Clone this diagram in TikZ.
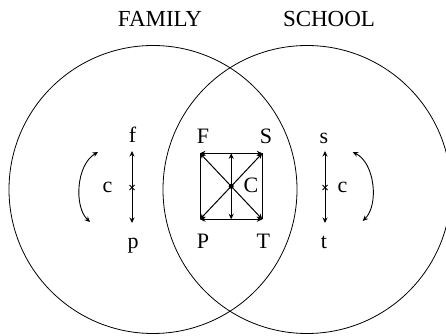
\documentclass[tikz,border=0pt]{standalone}
\usepackage{fontspec}
\setmainfont{Liberation Serif}
\usetikzlibrary{arrows.meta}
\begin{document}
\begin{tikzpicture}[x=1pt,y=-1pt,
  ring/.style={draw,line width=0.8pt},
  arr/.style={-{Stealth[length=5.5pt,width=5pt]},line width=1pt},
  darr/.style={{Stealth[length=5.5pt,width=5pt]}-{Stealth[length=5.5pt,width=5pt]},line width=0.9pt},
  xmark/.style={line width=1pt},
  lbl/.style={inner sep=0pt,anchor=base,font=\fontsize{22}{26}\selectfont},
  ttl/.style={inner sep=0pt,anchor=base,font=\fontsize{23}{27}\selectfont}]
\useasboundingbox (0,0) rectangle (446,336);
\clip (0,0) rectangle (446,336);
% titles
\node[ttl] (family) at (160,26.7) {FAMILY};
\node[ttl] (school) at (329,26.7) {SCHOOL};
% circles
\draw[ring] (153,189.5) circle[radius=144];
\draw[ring] (307,189.5) circle[radius=144];
% labels
\node[lbl] (f) at (132.5,143) {f};
\node[lbl] (p) at (133,248) {p};
\node[lbl] (cl) at (107.5,192.5) {c};
\node[lbl] (F) at (203,144) {F};
\node[lbl] (S) at (266,144) {S};
\node[lbl] (P) at (203,248) {P};
\node[lbl] (T) at (263.3,248) {T};
\node[lbl] (C) at (251,193) {C};
\node[lbl] (s) at (324,144) {s};
\node[lbl] (t) at (324,248) {t};
\node[lbl] (cr) at (342.5,192.5) {c};
% square coordinates
\coordinate (qF) at (200,153.3);
\coordinate (qS) at (262.3,153.3);
\coordinate (qP) at (200,219.3);
\coordinate (qT) at (262.3,219.3);
\coordinate (qC) at (231.2,186.3);
\coordinate (qt) at (231.2,153.3);
\coordinate (qb) at (231.2,219.3);
\draw[line width=1pt] (qF) -- (qP);
\draw[line width=1pt] (qS) -- (qT);
\draw[arr] (qt) -- (qF);
\draw[arr] (qt) -- (qS);
\draw[arr] (qb) -- (qP);
\draw[arr] (qb) -- (qT);
\draw[arr] (qC) -- (qt);
\draw[arr] (qC) -- (qb);
\draw[arr] (qC) -- (qF);
\draw[arr] (qC) -- (qS);
\draw[arr] (qC) -- (qP);
\draw[arr] (qC) -- (qT);
\fill (qC) circle[radius=2.5];
% left vertical
\coordinate (fT) at (132,151);
\coordinate (fM) at (132,187.5);
\coordinate (fB) at (132,223);
\draw[arr] (fM) -- (fT);
\draw[arr] (fM) -- (fB);
\draw[xmark] ([shift={(-2.5,-2.5)}]fM) -- ([shift={(2.5,2.5)}]fM) ([shift={(-2.5,2.5)}]fM) -- ([shift={(2.5,-2.5)}]fM);
% right vertical
\coordinate (sT) at (325,151);
\coordinate (sM) at (325,187.5);
\coordinate (sB) at (325,223);
\draw[arr] (sM) -- (sT);
\draw[arr] (sM) -- (sB);
\draw[xmark] ([shift={(-2.5,-2.5)}]sM) -- ([shift={(2.5,2.5)}]sM) ([shift={(-2.5,2.5)}]sM) -- ([shift={(2.5,-2.5)}]sM);
% curved arrows
\coordinate (lA) at (98,152);
\coordinate (lB) at (90,222);
\draw[darr] (lA) .. controls (76,165) and (74,207) .. (lB);
\coordinate (rA) at (352.7,152);
\coordinate (rB) at (362.7,221);
\draw[darr] (rA) .. controls (375,163) and (379,205) .. (rB);
\end{tikzpicture}
\end{document}
